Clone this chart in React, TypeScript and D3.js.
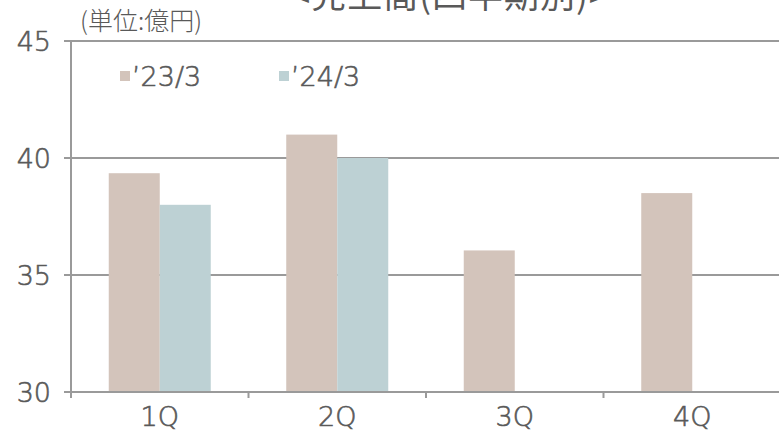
import React from "react";
import * as d3 from "d3";

const categories = ["1Q", "2Q", "3Q", "4Q"];
const seriesNames = ["’23/3", "’24/3"];
const values23 = [39.35, 41.0, 36.05, 38.5];
const values24: (number | null)[] = [38.0, 40.0, null, null];
const yTicks = [30, 35, 40, 45];
const colors = ["#D3C4BB", "#BDD1D4"];
const title = "<売上高(四半期別)>";
const unitLabel = "(単位:億円)";

const W = 779;
const H = 434;
const left = 71;
const right = 781;
const top = 41;
const bottom = 392;

export default function App() {
  const y = d3.scaleLinear().domain([30, 45]).range([bottom, top]);
  const x0 = d3.scaleBand<string>().domain(categories).range([left, right]).paddingInner(0).paddingOuter(0);
  const x1 = d3.scaleBand<string>().domain(seriesNames).range([0, x0.bandwidth()]).paddingInner(0).paddingOuter(0.74);
  const series = [values23, values24];
  const textColor = "#595959";
  const font = "'DejaVu Sans', sans-serif";
  const cjk = "'Noto Sans CJK JP', sans-serif";
  const boundaries = categories.map((c) => x0(c)!).concat([right]);
  const latin = {
    fontFamily: font,
    fontWeight: 200,
    fontSize: 27,
    fill: textColor,
    stroke: textColor,
    strokeWidth: 0.6,
  } as const;

  return (
    <div style={{ position: "absolute", left: 0, top: 0 }}>
      <style>{`body{margin:0}`}</style>
      <svg width={W} height={H} style={{ display: "block", background: "#fff" }}>
        {/* title */}
        <text x={450} y={8} textAnchor="middle" fontFamily={cjk} fontWeight={400} fontSize={35} fill={textColor} letterSpacing={1}>
          {title}
        </text>
        <text x={80} y={30} fontFamily={cjk} fontWeight={300} fontSize={25} fill={textColor}>
          {unitLabel}
        </text>
        {/* gridlines */}
        {yTicks.map((t) => (
          <g key={t}>
            <line x1={64} x2={W} y1={y(t)} y2={y(t)} stroke="#9a9a9a" strokeWidth={2} />
            <text x={51} y={y(t)} dy="0.36em" textAnchor="end" {...latin}>
              {t}
            </text>
          </g>
        ))}
        {/* bars */}
        {series.map((vals, si) =>
          categories.map((c, ci) => {
            const v = vals[ci];
            if (v == null) return null;
            const bx = x0(c)! + x1(seriesNames[si])!;
            return (
              <rect
                key={`${si}-${ci}`}
                x={bx}
                y={y(v)}
                width={x1.bandwidth()}
                height={bottom - y(v)}
                fill={colors[si]}
              />
            );
          })
        )}
        {/* axes */}
        <line x1={left} x2={left} y1={top - 1} y2={bottom + 6} stroke="#9a9a9a" strokeWidth={2} />
        <line x1={64} x2={W} y1={bottom} y2={bottom} stroke="#9a9a9a" strokeWidth={2} />
        {boundaries.map((bx, i) => (
          <line key={i} x1={bx} x2={bx} y1={bottom} y2={bottom + 6} stroke="#9a9a9a" strokeWidth={2} />
        ))}
        {categories.map((c) => (
          <text key={c} x={x0(c)! + x0.bandwidth() / 2} y={426} textAnchor="middle" {...latin}>
            {c}
          </text>
        ))}
        {/* legend */}
        {seriesNames.map((s, i) => {
          const lx = i === 0 ? 120 : 279;
          return (
            <g key={s}>
              <rect x={lx} y={71} width={10} height={10} fill={colors[i]} />
              <text x={lx + 12} y={86} {...latin}>
                {s}
              </text>
            </g>
          );
        })}
      </svg>
    </div>
  );
}
